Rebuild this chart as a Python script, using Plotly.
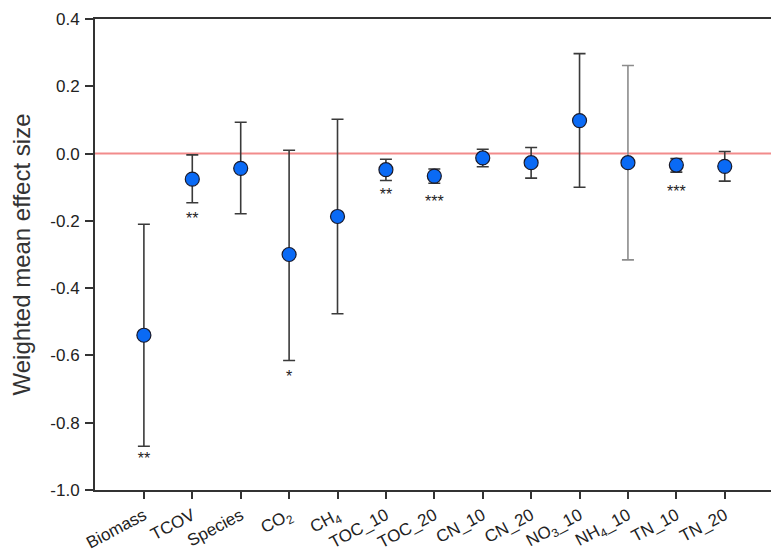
import plotly.graph_objects as go

categories = ["Biomass", "TCOV", "Species", "CO<sub>2</sub>", "CH<sub>4</sub>", "TOC_10", "TOC_20",
              "CN_10", "CN_20", "NO<sub>3</sub>_10", "NH<sub>4</sub>_10", "TN_10", "TN_20"]
means = [-0.54, -0.076, -0.044, -0.30, -0.187, -0.048, -0.067, -0.013, -0.027, 0.098, -0.027, -0.034, -0.038]
upper = [-0.21, -0.004, 0.093, 0.010, 0.102, -0.017, -0.046, 0.013, 0.018, 0.297, 0.262, -0.015, 0.006]
lower = [-0.87, -0.146, -0.179, -0.615, -0.476, -0.080, -0.088, -0.039, -0.073, -0.100, -0.316, -0.055, -0.082]
stars = ["**", "**", "", "*", "", "**", "***", "", "", "", "", "***", ""]
star_y = [-0.912, -0.198, None, -0.668, None, -0.126, -0.148, None, None, None, None, -0.116, None]
light_err = ["NH<sub>4</sub>_10"]
ytick_vals = [0.4, 0.2, 0.0, -0.2, -0.4, -0.6, -0.8, -1.0]
ytick_text = ["0.4", "0.2", "0.0", "-0.2", "-0.4", "-0.6", "-0.8", "-1.0"]

xs = list(range(len(categories)))
err_plus = [u - m for u, m in zip(upper, means)]
err_minus = [m - l for m, l in zip(means, lower)]

fig = go.Figure()

# zero reference line
fig.add_shape(type="line", xref="paper", x0=0, x1=1, yref="y", y0=0, y1=0,
              line=dict(color="#f28b8b", width=2), layer="below")

for group, col in [(False, "#3a3a3a"), (True, "#8c8c8c")]:
    idx = [i for i, c in enumerate(categories) if (c in light_err) == group]
    fig.add_trace(go.Scatter(
        x=[xs[i] for i in idx], y=[means[i] for i in idx], mode="markers",
        marker=dict(size=14, color="#0a6af5", line=dict(color="#1a1a2a", width=1.2)),
        error_y=dict(type="data", symmetric=False,
                     array=[err_plus[i] for i in idx],
                     arrayminus=[err_minus[i] for i in idx],
                     color=col, thickness=1.6, width=6),
        showlegend=False, hoverinfo="skip"))

sidx = [i for i, s in enumerate(stars) if s]
fig.add_trace(go.Scatter(
    x=[xs[i] for i in sidx], y=[star_y[i] for i in sidx], mode="text",
    text=[stars[i] for i in sidx], textfont=dict(size=16, color="#222"),
    showlegend=False, hoverinfo="skip"))

# the page body adds an 8px offset, so the figure is sized to fit the window
fig.update_layout(
    width=771, height=552,
    margin=dict(l=87, r=1, t=11, b=70),
    paper_bgcolor="white", plot_bgcolor="white",
    font=dict(family="Liberation Sans, Arial, sans-serif", size=17, color="#222"),
)
fig.update_xaxes(
    range=[-1.01, 13.1], tickmode="array", tickvals=xs, ticktext=categories,
    tickangle=-28, ticks="outside", ticklen=7, tickcolor="#333", tickwidth=1.5,
    showline=True, linecolor="#333", linewidth=2, mirror=True, automargin=False,
    showgrid=False, zeroline=False, tickfont=dict(size=17))
fig.update_yaxes(
    range=[-1.0, 0.4], tickmode="array", tickvals=ytick_vals, ticktext=ytick_text,
    ticks="outside", ticklen=8, tickcolor="#333", tickwidth=1.5, ticklabelstandoff=2,
    ticklabeloverflow="allow",
    showline=True, linecolor="#333", linewidth=2, mirror=True, automargin=False,
    showgrid=False, zeroline=False, tickfont=dict(size=17),
    title=dict(text="Weighted mean effect size", font=dict(size=24, color="#333"), standoff=27))

fig.write_html("out.html")
